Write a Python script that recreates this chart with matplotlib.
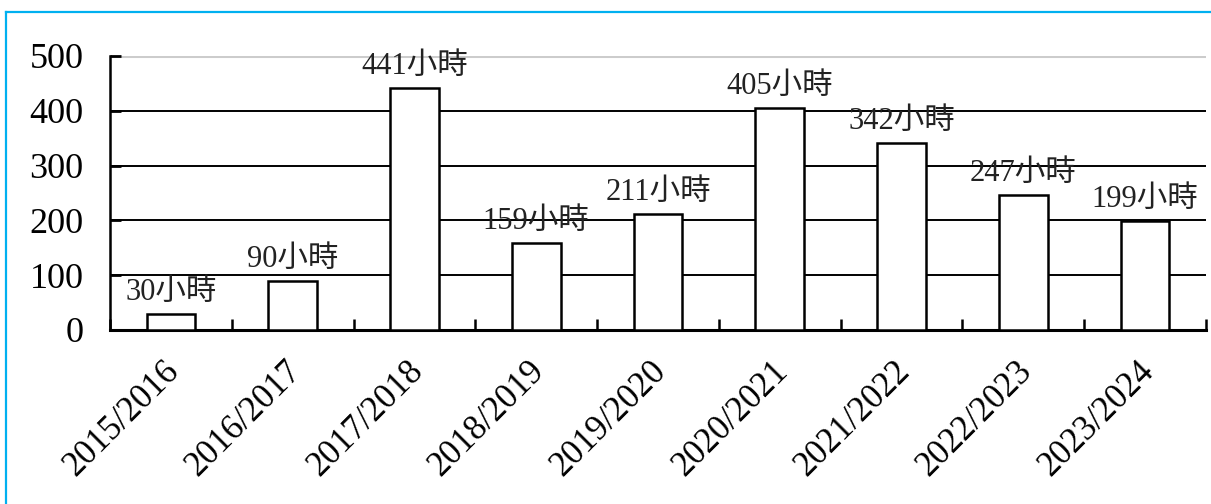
import matplotlib
matplotlib.use("Agg")
import matplotlib.pyplot as plt
import matplotlib.transforms as mtransforms
from matplotlib.lines import Line2D
import numpy as np

plt.rcParams['font.family'] = ['Liberation Serif', 'Noto Sans CJK TC']

seasons = ["2015/2016", "2016/2017", "2017/2018", "2018/2019", "2019/2020",
           "2020/2021", "2021/2022", "2022/2023", "2023/2024"]
hours = [30, 90, 441, 159, 211, 405, 342, 247, 199]
y_ticks = [0, 100, 200, 300, 400, 500]
unit = "小時"

fig = plt.figure(figsize=(12.11, 5.04), dpi=100)
ax = fig.add_axes([110 / 1211, 1 - 330 / 504, 1096 / 1211, 274 / 504])

x = np.arange(len(seasons))
ax.set_xlim(-0.5, len(seasons) - 0.5)
ax.set_ylim(0, 500)

# gridlines (top one is light grey)
for v in y_ticks[1:-1]:
    ax.axhline(v, color="black", lw=1.4, zorder=1)
ax.axhline(500, color="#cccccc", lw=2.2, zorder=1)

ax.bar(x, hours, width=0.4, color="white", edgecolor="black", lw=1.8, zorder=3)
for xi, h in zip(x, hours):
    ax.annotate(f"{h}{unit}", (xi, h), xytext=(0, 5), textcoords="offset points",
                ha="center", va="bottom", fontsize=22, color="#222222", zorder=4)

for s in ["top", "right"]:
    ax.spines[s].set_visible(False)
ax.spines["left"].set_linewidth(1.8)
ax.spines["bottom"].set_linewidth(2.2)

ax.set_yticks(y_ticks)
ax.set_yticklabels([str(v) for v in y_ticks], fontsize=26)
ax.tick_params(axis="y", direction="in", length=8, width=2, pad=19)

ax.set_xticks(np.arange(len(seasons) + 1) - 0.5, minor=False)
ax.set_xticklabels([])
ax.tick_params(axis="x", direction="in", length=8, width=1.8)
ax.set_xticks(x, minor=True)
ax.set_xticklabels(seasons, minor=True, rotation=45, ha="right", va="top",
                   rotation_mode="anchor", fontsize=25)
ax.tick_params(axis="x", which="minor", length=0, pad=16)
shift = mtransforms.ScaledTranslation(-8 / 100, -2 / 100, fig.dpi_scale_trans)
for lbl in ax.get_xticklabels(minor=True):
    lbl.set_transform(lbl.get_transform() + shift)

# blue frame around the figure
blue = "#00b0f0"
fig.add_artist(Line2D([6 / 1211, 6 / 1211], [0, 1 - 12 / 504], transform=fig.transFigure,
                      color=blue, lw=1.6))
fig.add_artist(Line2D([6 / 1211, 1], [1 - 12 / 504, 1 - 12 / 504], transform=fig.transFigure,
                      color=blue, lw=1.6))

fig.savefig("out.png", dpi=100)
